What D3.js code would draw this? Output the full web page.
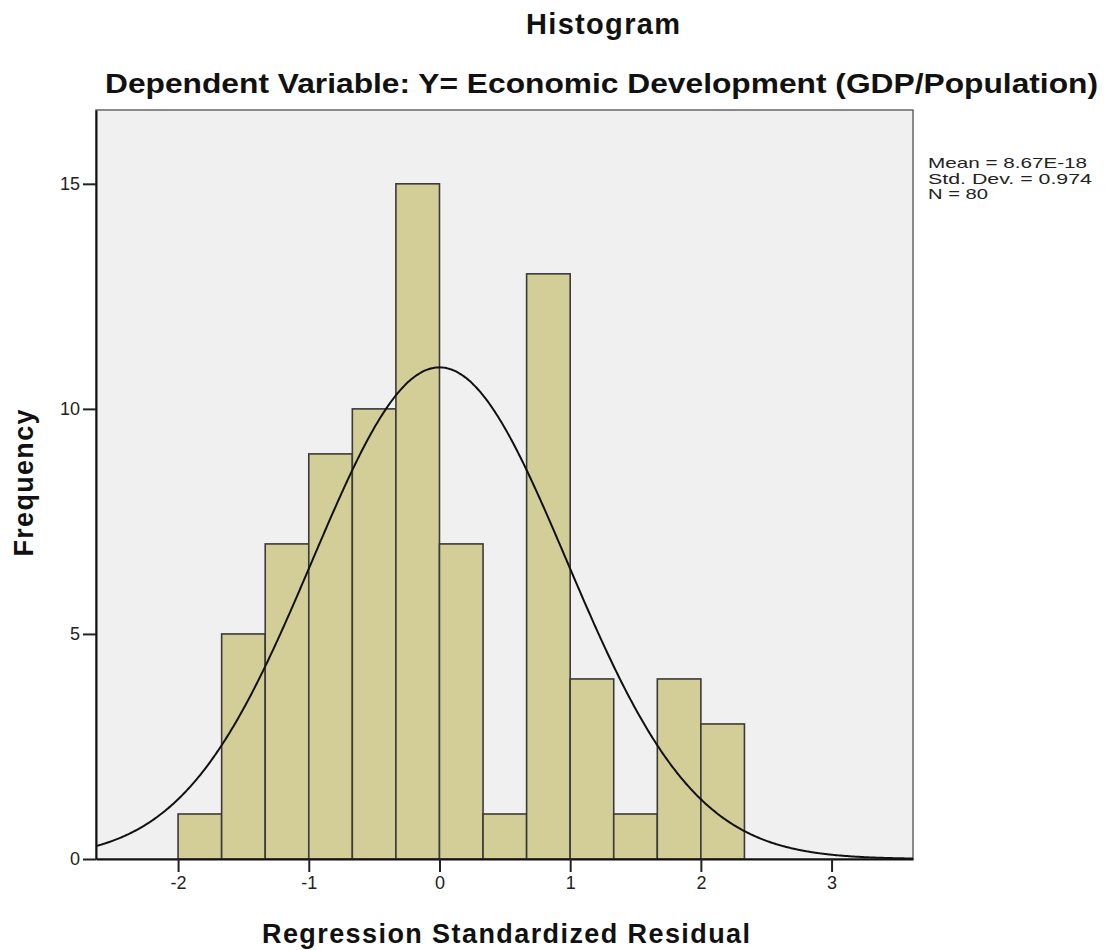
<!DOCTYPE html>
<html>
<head>
<meta charset="utf-8">
<script src="https://cdn.jsdelivr.net/npm/d3@7"></script>
<style>
  html, body { margin: 0; padding: 0; background: #ffffff; }
  svg { display: block; font-family: "Liberation Sans", Arial, sans-serif; }
</style>
</head>
<body>
<svg id="chart" width="1105" height="950"></svg>
<script>
// ---- data ----
const binEdges = [-2, -1.6667, -1.3333, -1, -0.6667, -0.3333, 0, 0.3333, 0.6667, 1, 1.3333, 1.6667, 2, 2.3333];
const counts = [1, 5, 7, 9, 10, 15, 7, 1, 13, 4, 1, 4, 3];
const xTicks = [-2, -1, 0, 1, 2, 3];
const yTicks = [0, 5, 10, 15];
const statsLines = ["Mean = 8.67E-18", "Std. Dev. = 0.974", "N = 80"];
const mean = 8.67e-18, sd = 0.974, n = 80;
const binWidth = 1 / 3;

const svg = d3.select("#chart");
const plot = { left: 96, right: 913, top: 110, bottom: 859 };

const x = d3.scaleLinear().domain([-2.628, 3.623]).range([plot.left, plot.right]);
const y = d3.scaleLinear().domain([0, 16.64]).range([plot.bottom, plot.top]);

// background
svg.append("rect")
  .attr("x", plot.left).attr("y", plot.top)
  .attr("width", plot.right - plot.left).attr("height", plot.bottom - plot.top)
  .attr("fill", "#f0f0f0").attr("stroke", "#666").attr("stroke-width", 1.5);

// bars
const bins = counts.map((c, i) => ({ x0: binEdges[i], x1: binEdges[i + 1], c }));
svg.append("g").selectAll("rect").data(bins).join("rect")
  .attr("x", d => x(d.x0))
  .attr("y", d => y(d.c))
  .attr("width", d => x(d.x1) - x(d.x0))
  .attr("height", d => y(0) - y(d.c))
  .attr("fill", "#d3ce97")
  .attr("stroke", "#3a3a3a")
  .attr("stroke-width", 1.6);

// normal curve
const pts = d3.range(x.domain()[0], x.domain()[1] + 0.001, 0.01).map(v => {
  const z = (v - mean) / sd;
  return [v, n * binWidth * Math.exp(-0.5 * z * z) / (sd * Math.sqrt(2 * Math.PI))];
});
svg.append("path")
  .datum(pts)
  .attr("fill", "none")
  .attr("stroke", "#111")
  .attr("stroke-width", 2)
  .attr("d", d3.line().x(d => x(d[0])).y(d => y(d[1])).curve(d3.curveBasis));

// axes
const fmt = d => String(d);
const xAxis = svg.append("g")
  .attr("transform", `translate(0,${plot.bottom})`)
  .call(d3.axisBottom(x).tickValues(xTicks).tickSizeInner(13).tickSizeOuter(0).tickPadding(4).tickFormat(fmt));
const yAxis = svg.append("g")
  .attr("transform", `translate(${plot.left},0)`)
  .call(d3.axisLeft(y).tickValues(yTicks).tickSizeInner(13).tickSizeOuter(0).tickPadding(3).tickFormat(fmt));
[xAxis, yAxis].forEach(g => {
  g.select(".domain").attr("stroke", "#111").attr("stroke-width", 2);
  g.selectAll(".tick line").attr("stroke", "#222").attr("stroke-width", 2);
  g.selectAll(".tick text").attr("fill", "#222").style("font-size", "18px")
    .style("font-family", "'Liberation Sans', Arial, sans-serif");
});

// titles
svg.append("text").attr("x", 603).attr("y", 34).attr("text-anchor", "middle")
  .style("font-size", "29px").style("font-weight", "bold").attr("fill", "#111")
  .attr("textLength", 154).attr("lengthAdjust", "spacing")
  .text("Histogram");
svg.append("text").attr("x", 601.5).attr("y", 93).attr("text-anchor", "middle")
  .style("font-size", "28px").style("font-weight", "bold").attr("fill", "#111")
  .attr("textLength", 993).attr("lengthAdjust", "spacingAndGlyphs")
  .text("Dependent Variable: Y= Economic Development (GDP/Population)");
svg.append("text").attr("x", 506).attr("y", 943).attr("text-anchor", "middle")
  .style("font-size", "27px").style("font-weight", "bold").attr("fill", "#111")
  .attr("textLength", 488).attr("lengthAdjust", "spacing")
  .text("Regression Standardized Residual");
svg.append("text")
  .attr("transform", "translate(33,483) rotate(-90)")
  .attr("text-anchor", "middle")
  .style("font-size", "27px").style("font-weight", "bold").attr("fill", "#111")
  .attr("textLength", 147).attr("lengthAdjust", "spacing")
  .text("Frequency");

// stats box
const statWidths = [159, 164, 60];
const statY = [168, 183.5, 199];
svg.append("g").selectAll("text").data(statsLines).join("text")
  .attr("x", 928)
  .attr("y", (d, i) => statY[i])
  .style("font-size", "15px").attr("fill", "#222")
  .attr("textLength", (d, i) => statWidths[i]).attr("lengthAdjust", "spacingAndGlyphs")
  .text(d => d);
</script>
</body>
</html>
